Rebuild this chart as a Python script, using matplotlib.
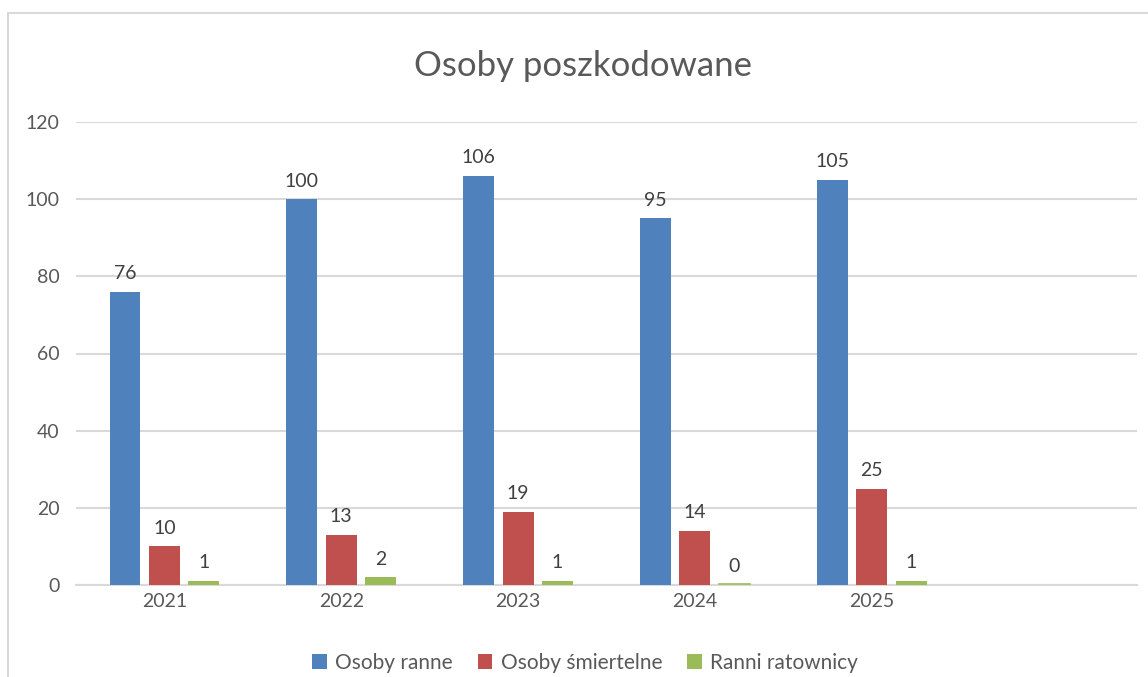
import numpy as np
import matplotlib.pyplot as plt
from matplotlib.patches import Rectangle

plt.rcParams['font.family'] = ['Lato', 'DejaVu Sans']

years = ['2021', '2022', '2023', '2024', '2025']
ranne = [76, 100, 106, 95, 105]
smiertelne = [10, 13, 19, 14, 25]
ratownicy = [1, 2, 1, 0, 1]

series = [
    ('Osoby ranne', ranne, '#4f81bd'),
    ('Osoby śmiertelne', smiertelne, '#c0504d'),
    ('Ranni ratownicy', ratownicy, '#9bbb59'),
]

fig = plt.figure(figsize=(11.48, 6.77), dpi=100)
# chart frame (cut off at right and bottom like the screenshot)
fig.patches.append(Rectangle((8 / 1148, -0.1), 1.2, 1 - 13 / 677 + 0.1,
                             transform=fig.transFigure, fill=False,
                             edgecolor='#d9d9d9', linewidth=1.5))

ax = fig.add_axes([76 / 1148, 1 - 585 / 677, (1137 - 76) / 1148, (585 - 122) / 677])

x = np.arange(len(years))
width = 0.175
offsets = [-0.223, 0, 0.223]
handles = []
for (name, vals, color), off in zip(series, offsets):
    bars = ax.bar(x + off, vals, width, color=color, label=name, zorder=3)
    handles.append(bars)
    for xi, v in zip(x + off, vals):
        if v == 0:
            # zero value still shows as a hairline in the original
            ax.plot([xi - width / 2, xi + width / 2], [0.15, 0.15],
                    color=color, linewidth=1.2, zorder=4)
        ax.text(xi, v + 2.5, str(v), ha='center', va='bottom',
                fontsize=14, color='#404040')

ax.set_xlim(-0.5, 5.5)
ax.set_ylim(0, 120)
ax.set_yticks(range(0, 121, 20))
ax.set_xticks(x)
ax.set_xticklabels(years)
ax.tick_params(axis='both', length=0, labelsize=14, colors='#595959')
ax.tick_params(axis='y', pad=12)
ax.tick_params(axis='x', pad=6)
ax.grid(axis='y', color='#d9d9d9', linewidth=1.5, zorder=0)
for s in ['top', 'right', 'left']:
    ax.spines[s].set_visible(False)
ax.spines['bottom'].set_color('#d9d9d9')
ax.spines['bottom'].set_linewidth(1.5)

fig.text(583 / 1148, 1 - 66 / 677, 'Osoby poszkodowane', ha='center', va='center',
         fontsize=25, color='#595959')

fig.legend(handles=handles, loc='center', bbox_to_anchor=(585 / 1148, 1 - 663 / 677),
           ncol=3, frameon=False, fontsize=15, labelcolor='#595959',
           handlelength=0.7, handleheight=0.7, handletextpad=0.4, columnspacing=1.2)

fig.savefig('out.png', dpi=100)
